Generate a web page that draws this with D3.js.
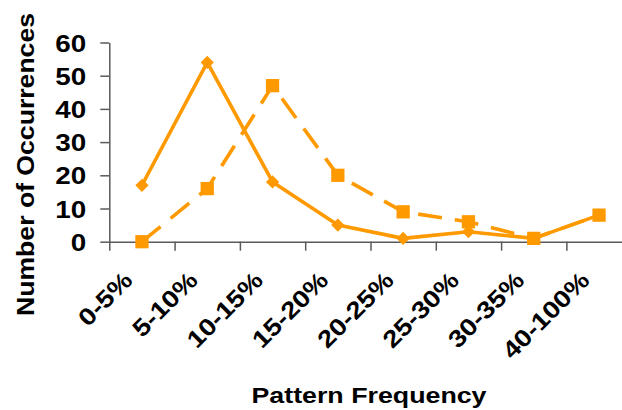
<!DOCTYPE html>
<html>
<head>
<meta charset="utf-8">
<script src="https://cdn.jsdelivr.net/npm/d3@7"></script>
<style>
  html, body { margin: 0; padding: 0; background: #fff; }
  svg { display: block; }
  text { font-family: "Liberation Sans", Arial, sans-serif; font-weight: bold; fill: #000; }
</style>
</head>
<body>
<svg id="chart" width="622" height="410"></svg>
<script>
// Frequency buckets along the x axis
const categories = ["0-5%", "5-10%", "10-15%", "15-20%", "20-25%", "25-30%", "30-35%", "40-100%"];
// Solid line with diamond markers
const seriesDiamond = [17, 54, 18, 5, 1, 3, 1, 8];
// Dashed line with square markers
const seriesSquare = [0, 16, 47, 20, 9, 6, 1, 8];
// Value axis ticks
const yTicks = [0, 10, 20, 30, 40, 50, 60];

const svg = d3.select("#chart");
const color = "#FF9900";
const axisColor = "#5a5a5a";
const widen = 1.16; // labels are set slightly wide

function stretch(sel) {
  sel.each(function () {
    const w = this.getComputedTextLength();
    d3.select(this).attr("textLength", w * widen).attr("lengthAdjust", "spacingAndGlyphs");
  });
}

const x0 = 109.3, step = 65.3;
const x = d3.scaleBand().domain(categories).range([x0, x0 + step * categories.length]).padding(0);
const xEdges = d3.scaleLinear().domain([0, categories.length]).range(x.range());
const y = d3.scaleLinear().domain([0, 60]).range([241.7, 42.5]);

// Y axis
const yAxis = svg.append("g")
  .attr("transform", `translate(${x0},0)`)
  .call(d3.axisLeft(y).tickValues(yTicks).tickSize(9).tickSizeOuter(0).tickPadding(14));
yAxis.selectAll("text").style("font-size", "24px").attr("dy", "0.36em").call(stretch);

// X axis: tick marks at bucket edges
svg.append("g")
  .attr("transform", `translate(0,${y(0)})`)
  .call(d3.axisBottom(xEdges).tickValues(d3.range(categories.length + 1)).tickSize(9).tickSizeOuter(0).tickFormat(""));

// X axis: rotated bucket labels at bucket centres
const xAxisLabels = svg.append("g")
  .attr("transform", `translate(0,${y(0)})`)
  .call(d3.axisBottom(x).tickSize(0).tickSizeOuter(0));
xAxisLabels.select(".domain").remove();
xAxisLabels.selectAll("text")
  .attr("x", 0).attr("y", 0).attr("dy", 0)
  .attr("text-anchor", "end")
  .attr("transform", "translate(-8,40) rotate(-45)")
  .style("font-size", "24px")
  .call(stretch);

svg.selectAll(".domain, .tick line")
  .attr("stroke", axisColor)
  .attr("stroke-width", 1.5);

const cx = d => x(d) + x.bandwidth() / 2;

const line = d3.line().x((d, i) => cx(categories[i])).y(d => y(d));

// Dashed series
svg.append("path")
  .datum(seriesSquare)
  .attr("d", line)
  .attr("fill", "none")
  .attr("stroke", color)
  .attr("stroke-width", 3.6)
  .attr("stroke-dasharray", "24,13");

// Solid series
svg.append("path")
  .datum(seriesDiamond)
  .attr("d", line)
  .attr("fill", "none")
  .attr("stroke", color)
  .attr("stroke-width", 3.6)
  .attr("stroke-linejoin", "round");

// Diamond markers
const diamond = d3.symbol().type(d3.symbolSquare).size(88);
svg.append("g").selectAll("path")
  .data(seriesDiamond)
  .join("path")
  .attr("d", diamond)
  .attr("transform", (d, i) => `translate(${cx(categories[i])},${y(d)}) rotate(45)`)
  .attr("fill", color);

// Square markers
const square = d3.symbol().type(d3.symbolSquare).size(176);
svg.append("g").selectAll("path")
  .data(seriesSquare)
  .join("path")
  .attr("d", square)
  .attr("transform", (d, i) => `translate(${cx(categories[i])},${y(d)})`)
  .attr("fill", color);

// Axis titles
svg.append("text")
  .attr("transform", "translate(33.5,164.5) rotate(-90)")
  .attr("text-anchor", "middle")
  .attr("textLength", 303)
  .attr("lengthAdjust", "spacingAndGlyphs")
  .style("font-size", "23px")
  .text("Number of Occurrences");

svg.append("text")
  .attr("x", 369)
  .attr("y", 403)
  .attr("text-anchor", "middle")
  .attr("textLength", 235)
  .attr("lengthAdjust", "spacingAndGlyphs")
  .style("font-size", "22px")
  .text("Pattern Frequency");
</script>
</body>
</html>
